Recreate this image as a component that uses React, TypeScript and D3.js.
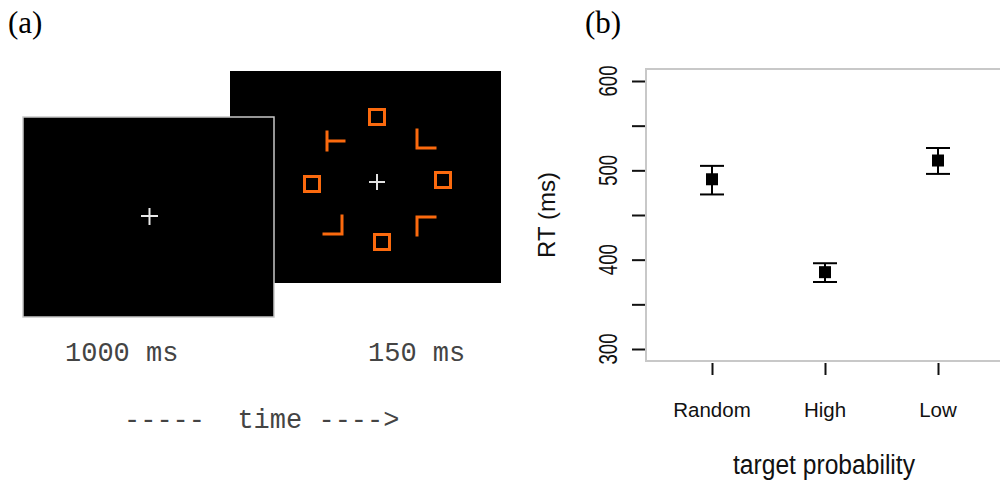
import { useEffect, useRef } from "react";
import * as d3 from "d3";

// panel (b) data
const categories = ["Random", "High", "Low"];
const meanRT = [490, 386, 511];
const upperRT = [505, 396, 525];
const lowerRT = [473, 375, 496];
const yTicks = [300, 350, 400, 450, 500, 550, 600];
const yLabels = [300, 400, 500, 600];

// panel (a) distractor / target shapes around the fixation cross
const stimuli = [
  { kind: "square", dx: 0, dy: -65 },
  { kind: "square", dx: 5, dy: 60 },
  { kind: "square", dx: -65, dy: 2 },
  { kind: "square", dx: 66, dy: -2 },
  { kind: "tee", dx: -50, dy: -50 },
  { kind: "ell", dx: 40, dy: -52 },
  { kind: "jay", dx: -35, dy: 34 },
  { kind: "gamma", dx: 40, dy: 35 },
];

const ORANGE = "#fb6a0e";

export default function App() {
  const ref = useRef(null);

  useEffect(() => {
    const svg = d3.select(ref.current);
    svg.selectAll("*").remove();

    // ---------- panel (a) ----------
    const a = svg.append("g");
    a.append("text")
      .attr("x", 8)
      .attr("y", 33)
      .attr("font-family", "Liberation Serif")
      .attr("font-size", 31)
      .text("(a)");

    // back screen (search display)
    a.append("rect")
      .attr("x", 230)
      .attr("y", 71)
      .attr("width", 271)
      .attr("height", 212)
      .attr("fill", "#000");

    const cx = 377,
      cy = 182;
    const g = a.append("g").attr("transform", `translate(${cx},${cy})`);
    const sw = 3;
    const arm = 18;
    stimuli.forEach((s) => {
      if (s.kind === "square") {
        g.append("rect")
          .attr("x", s.dx - 7.5)
          .attr("y", s.dy - 7.5)
          .attr("width", 15)
          .attr("height", 15)
          .attr("fill", "none")
          .attr("stroke", ORANGE)
          .attr("stroke-width", sw);
      } else {
        let d = "";
        if (s.kind === "tee")
          d = `M${s.dx},${s.dy}v${arm}M${s.dx},${s.dy + arm / 2}h${arm - 1}`;
        if (s.kind === "ell")
          d = `M${s.dx},${s.dy}v${arm}h${arm}`;
        if (s.kind === "jay")
          d = `M${s.dx},${s.dy}v${arm}h${-arm}`;
        if (s.kind === "gamma")
          d = `M${s.dx},${s.dy + arm}v${-arm}h${arm}`;
        g.append("path")
          .attr("d", d)
          .attr("fill", "none")
          .attr("stroke", ORANGE)
          .attr("stroke-width", sw)
          .attr("stroke-linecap", "square");
      }
    });
    g.append("path")
      .attr("d", "M-8,0h16M0,-8v16")
      .attr("stroke", "#e0e0e0")
      .attr("stroke-width", 2);

    // front screen (fixation)
    a.append("rect")
      .attr("x", 23)
      .attr("y", 117)
      .attr("width", 251)
      .attr("height", 200)
      .attr("fill", "#000")
      .attr("stroke", "#c8c8c8")
      .attr("stroke-width", 1.5);
    a.append("path")
      .attr("d", "M141,216h17M149.5,208v17")
      .attr("stroke", "#e8e8e8")
      .attr("stroke-width", 2);

    const mono = (x, y, t) =>
      a.append("text")
        .attr("x", x)
        .attr("y", y)
        .attr("font-family", "Liberation Mono")
        .attr("font-size", 27)
        .attr("fill", "#444")
        .attr("xml:space", "preserve")
        .style("white-space", "pre")
        .text(t);
    mono(65, 361, "1000 ms");
    mono(368, 361, "150 ms");
    mono(124, 428, "-----  time ---->");

    // ---------- panel (b) ----------
    const b = svg.append("g");
    b.append("text")
      .attr("x", 585)
      .attr("y", 33)
      .attr("font-family", "Liberation Serif")
      .attr("font-size", 31)
      .text("(b)");

    const top = 69,
      bottom = 361,
      left = 646;
    const y = d3.scaleLinear().domain([300, 600]).range([349, 81]);
    const x = d3.scalePoint().domain(categories).range([712, 938]);

    b.append("rect")
      .attr("x", left)
      .attr("y", top)
      .attr("width", 400)
      .attr("height", bottom - top)
      .attr("fill", "none")
      .attr("stroke", "#c8c8c8")
      .attr("stroke-width", 2);

    const ya = b.append("g")
      .attr("transform", `translate(${left - 1},0)`)
      .call(d3.axisLeft(y).tickValues(yTicks).tickSize(13).tickFormat(() => ""));
    ya.select(".domain").remove();
    ya.selectAll("line").attr("stroke", "#111").attr("stroke-width", 2);

    const xa = b.append("g")
      .attr("transform", `translate(0,${bottom + 2})`)
      .call(d3.axisBottom(x).tickSize(12).tickFormat(() => ""));
    xa.select(".domain").remove();
    xa.selectAll("line").attr("stroke", "#111").attr("stroke-width", 2);

    b.selectAll(".ylab")
      .data(yLabels)
      .join("text")
      .attr("transform", (d) => `translate(617,${y(d)}) rotate(-90)`)
      .attr("text-anchor", "middle")
      .attr("font-family", "Liberation Sans")
      .attr("font-size", 25)
      .attr("textLength", 31)
      .attr("lengthAdjust", "spacingAndGlyphs")
      .attr("fill", "#111")
      .text((d) => d);

    b.selectAll(".xlab")
      .data(categories)
      .join("text")
      .attr("x", (d) => x(d))
      .attr("y", 417)
      .attr("text-anchor", "middle")
      .attr("font-family", "Liberation Sans")
      .attr("font-size", 20.5)
      .attr("fill", "#111")
      .text((d) => d);

    b.append("text")
      .attr("transform", "translate(555,215) rotate(-90)")
      .attr("text-anchor", "middle")
      .attr("font-family", "Liberation Sans")
      .attr("font-size", 24)
      .attr("fill", "#111")
      .text("RT (ms)");

    b.append("text")
      .attr("x", 733)
      .attr("y", 474)
      .attr("font-family", "Liberation Sans")
      .attr("font-size", 27)
      .attr("textLength", 182)
      .attr("lengthAdjust", "spacingAndGlyphs")
      .attr("fill", "#111")
      .text("target probability");

    const pts = categories.map((c, i) => ({
      c,
      m: meanRT[i],
      hi: upperRT[i],
      lo: lowerRT[i],
    }));
    const eb = b.append("g").attr("stroke", "#000").attr("stroke-width", 2);
    pts.forEach((p) => {
      const px = x(p.c);
      eb.append("line").attr("x1", px).attr("x2", px).attr("y1", y(p.hi)).attr("y2", y(p.lo));
      eb.append("line").attr("x1", px - 12).attr("x2", px + 12).attr("y1", y(p.hi)).attr("y2", y(p.hi));
      eb.append("line").attr("x1", px - 12).attr("x2", px + 12).attr("y1", y(p.lo)).attr("y2", y(p.lo));
    });
    b.selectAll(".pt")
      .data(pts)
      .join("rect")
      .attr("x", (d) => x(d.c) - 6)
      .attr("y", (d) => y(d.m) - 6)
      .attr("width", 12)
      .attr("height", 12)
      .attr("fill", "#000");
  }, []);

  return (
    <svg
      ref={ref}
      width={1000}
      height={481}
      style={{ position: "absolute", left: 0, top: 0, background: "#fff" }}
    />
  );
}
